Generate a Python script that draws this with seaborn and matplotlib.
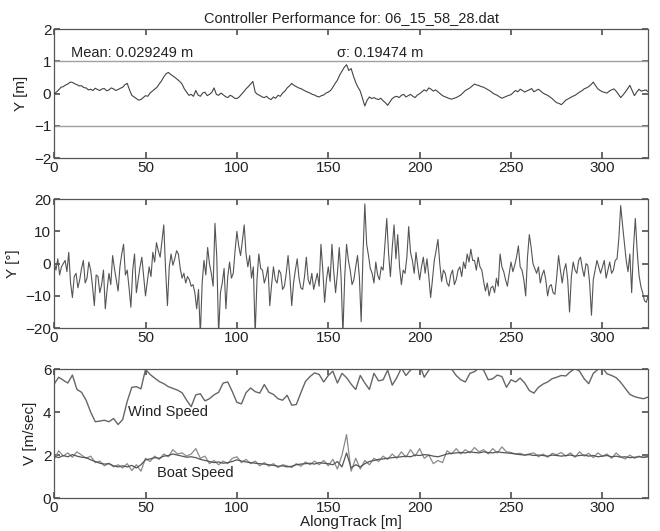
import numpy as np
import pandas as pd
import matplotlib
matplotlib.use("Agg")
import matplotlib.pyplot as plt
import seaborn as sns

# ---------------- data ----------------
track_end = 325.0

cross_track_m = [
    0.00, 0.05, 0.12, 0.20, 0.22, 0.27, 0.30, 0.36, 0.35, 0.31, 0.28, 0.24, 0.25, 0.19, 0.18, 0.12,
    0.14, 0.10, 0.17, 0.13, 0.10, 0.15, 0.16, 0.09, 0.12, 0.18, 0.15, 0.10, 0.13, 0.17, 0.20, 0.28,
    0.32, 0.12, -0.05, -0.10, -0.15, -0.20, -0.18, -0.12, -0.06, -0.08, 0.02, 0.08, 0.14, 0.20, 0.30, 0.40,
    0.52, 0.62, 0.66, 0.60, 0.55, 0.50, 0.44, 0.38, 0.30, 0.15, 0.05, -0.05, -0.02, -0.08, 0.10, -0.04,
    -0.08, 0.02, 0.05, -0.06, -0.02, 0.04, 0.18, -0.02, -0.05, 0.02, -0.03, -0.09, -0.12, -0.05, -0.08, -0.14,
    -0.15, -0.10, -0.02, 0.06, 0.15, 0.22, 0.30, 0.38, 0.05, -0.02, -0.05, -0.10, -0.12, -0.08, -0.15, -0.18,
    -0.10, -0.14, -0.05, -0.08, 0.02, 0.08, 0.18, 0.24, 0.32, 0.26, 0.22, 0.18, 0.16, 0.12, 0.08, 0.05,
    0.02, -0.02, -0.04, -0.08, -0.10, -0.06, -0.04, 0.02, 0.05, 0.10, 0.20, 0.32, 0.42, 0.58, 0.70, 0.82,
    0.90, 0.72, 0.78, 0.55, 0.35, 0.20, 0.08, -0.15, -0.38, -0.20, -0.10, -0.15, -0.12, -0.16, -0.18, -0.14,
    -0.22, -0.28, -0.36, -0.25, -0.15, -0.10, -0.08, -0.12, -0.05, -0.02, -0.10, -0.06, -0.02, -0.08, -0.12, -0.04,
    0.00, 0.06, 0.12, 0.08, 0.18, 0.14, 0.08, 0.12, 0.06, 0.00, -0.06, -0.09, -0.12, -0.15, -0.17, -0.14,
    -0.12, -0.08, -0.04, 0.03, 0.10, 0.14, 0.18, 0.24, 0.30, 0.27, 0.25, 0.22, 0.20, 0.16, 0.12, 0.08,
    0.02, -0.02, -0.05, -0.10, -0.14, -0.11, -0.08, -0.05, -0.03, 0.04, 0.10, 0.06, 0.14, 0.10, 0.05, 0.09,
    0.12, 0.16, 0.06, 0.10, 0.14, 0.08, 0.02, -0.02, -0.05, -0.10, -0.15, -0.22, -0.28, -0.30, -0.34, -0.27,
    -0.20, -0.16, -0.12, -0.08, -0.05, 0.00, 0.05, 0.09, 0.15, 0.18, 0.22, 0.28, 0.36, 0.25, 0.15, 0.10,
    0.06, 0.04, 0.02, 0.08, 0.12, 0.15, 0.08, -0.02, -0.12, -0.04, 0.05, 0.15, 0.26, 0.10, -0.06, 0.05,
    0.14, 0.08, 0.10, 0.12, 0.06,
]

heading_deg = [
    0.5, -2.0, 1.5, -3.5, -1.0, 0.0, 1.0, -2.5, 3.5, -6.0, -10.5, -4.0, -3.0, -7.5, -5.0, -1.5,
    1.0, -6.0, -4.5, 0.5, -2.0, -7.0, -13.0, -3.5, -4.0, -9.0, -6.5, -2.0, -14.0, -8.0, -3.0, -6.5,
    2.5, -1.5, -5.0, -8.5, -1.0, 3.0, 6.0, -3.5, -2.0, -7.5, -13.5, -2.0, 3.0, -9.0, -5.0, -1.0,
    2.0, -4.0, -10.0, -5.5, -1.0, -4.0, 3.5, 0.5, 6.5, 4.0, 2.0, 7.0, 12.0, -2.0, -13.0, -1.0,
    3.0, -0.5, 1.5, 4.0, 3.0, -1.5, -4.5, -3.0, -6.0, -4.0, -5.0, -7.0, -6.5, -9.0, -14.0, -8.0,
    -22.0, -6.0, 1.0, -3.5, 5.0, 0.0, -3.0, -7.0, 12.5, 2.0, -22.0, -9.0, -6.0, -1.5, -14.0, -4.0,
    0.5, -4.5, -3.0, 4.0, 10.0, 5.5, 2.5, 7.0, 12.0, 3.0, -1.0, 2.5, -4.5, -1.0, -22.0, -5.0,
    3.0, -1.5, -2.0, -6.0, -4.0, -1.0, -13.0, -6.5, -1.0, -5.0, -6.0, -2.0, -3.0, -8.0, -7.0, -3.0,
    2.5, -4.0, -13.0, -6.0, -2.0, 1.5, -4.5, -7.5, -8.0, -4.0, 2.0, -5.0, -6.5, -3.0, -8.0, -5.5,
    -3.0, -7.0, 6.0, -2.0, -12.0, -5.0, -1.0, -5.5, 6.0, -2.5, -9.0, -3.0, 5.0, -4.0, -22.0, -4.0,
    6.0, 1.0, -2.0, -6.5, -5.0, -1.0, 2.5, -4.0, -18.0, 3.0, 18.5, 6.0, 2.5, -1.5, -3.0, -6.0,
    0.5, -3.5, -5.0, -1.0, -2.0, 6.0, 14.0, 3.0, -4.0, 5.0, 12.0, 1.5, 9.0, -1.0, -6.5, -2.0,
    -3.0, 2.0, 11.5, 3.5, 1.0, -3.0, 3.5, -1.0, -5.0, -1.0, 2.0, -3.0, 1.5, -4.0, -10.5, -5.0,
    1.0, 4.0, 7.5, 0.0, -5.5, -2.0, -3.0, -6.0, -7.0, -3.5, -2.0, -6.5, -5.0, -2.0, -1.0, -4.0,
    0.5, -1.5, 3.0, 0.5, 4.5, 1.0, 1.0, -2.0, 2.0, -1.0, -2.0, -5.5, -8.5, -6.0, -10.0, -7.5,
    -7.0, -9.0, -4.5, -7.0, 3.0, -1.0, -2.5, -5.0, -7.0, -3.0, 0.5, -2.5, -0.5, 2.0, 5.5, -1.0,
    -2.0, -5.0, -10.0, 2.0, 9.0, 5.0, 0.0, -1.5, -3.0, -1.0, -6.0, -3.5, -2.0, -5.0, -10.0, -7.0,
    -6.5, -9.0, -9.5, -4.0, 2.5, -2.0, -6.0, -2.0, 0.0, -5.0, -15.0, -4.0, 0.5, -2.0, -3.0, 1.0,
    2.0, -1.5, -4.0, 0.0, -0.5, -6.0, -16.0, -5.0, -2.0, 1.0, -1.0, -3.0, -1.0, 1.0, -4.5, -2.0,
    0.5, -3.0, -2.0, 1.0, 1.5, 8.0, 18.0, 12.0, 6.5, 1.0, -2.5, 3.0, -9.0, 5.0, 14.0, 4.0,
    -3.5, -7.0, -9.0, -11.5, -12.0, -10.0,
]

wind_speed = [
    5.30, 5.62, 5.48, 5.35, 5.72, 5.05, 4.92, 4.55, 4.00, 3.55, 3.58, 3.62, 3.55, 3.70, 3.42, 3.65,
    4.50, 5.15, 5.18, 5.08, 5.98, 5.75, 5.58, 5.42, 5.32, 5.18, 5.10, 5.02, 4.90, 4.55, 4.25, 4.80,
    4.85, 4.52, 4.62, 4.80, 4.92, 5.35, 5.40, 4.95, 4.45, 4.38, 4.90, 5.12, 4.95, 4.88, 5.28, 4.92,
    4.82, 4.62, 4.55, 4.78, 4.32, 4.35, 4.90, 5.42, 5.65, 5.82, 5.75, 5.40, 5.70, 5.90, 5.35, 5.80,
    5.60, 5.30, 5.05, 5.70, 5.35, 5.05, 5.80, 5.45, 5.50, 5.95, 5.25, 5.60, 6.05, 5.70, 5.95, 6.10,
    6.20, 5.62, 5.95, 6.30, 6.40, 6.35, 6.20, 6.00, 5.70, 5.50, 5.40, 5.80, 5.88, 6.05, 5.95, 5.50,
    5.55, 5.72, 5.65, 5.15, 5.50, 5.40, 5.58, 5.35, 5.00, 4.88, 5.15, 5.30, 5.40, 5.55, 5.62, 5.70,
    5.68, 5.88, 6.02, 5.90, 5.55, 5.32, 5.80, 5.98, 6.05, 5.78, 5.70, 5.60, 5.38, 5.10, 4.82, 4.72,
    4.66, 4.62, 4.70,
]

boat_speed_a = [
    1.95, 1.88, 1.98, 1.92, 2.02, 1.95, 1.90, 1.88, 1.78, 1.70, 1.62, 1.58, 1.60, 1.50, 1.45, 1.50,
    1.45, 1.52, 1.40, 1.55, 1.78, 1.82, 1.88, 1.85, 1.95, 1.98, 2.05, 2.00, 1.95, 1.90, 1.92, 1.88,
    1.80, 1.75, 1.70, 1.65, 1.68, 1.62, 1.65, 1.70, 1.78, 1.72, 1.68, 1.65, 1.62, 1.60, 1.58, 1.55,
    1.52, 1.48, 1.50, 1.45, 1.48, 1.55, 1.58, 1.60, 1.62, 1.58, 1.65, 1.62, 1.60, 1.55, 1.70, 1.45,
    2.10, 1.40, 1.55, 1.45, 1.60, 1.70, 1.75, 1.80, 1.82, 1.85, 1.88, 1.90, 1.92, 1.95, 1.92, 2.00,
    1.98, 2.02, 2.00, 1.95, 1.92, 1.98, 2.05, 2.08, 2.10, 2.12, 2.10, 2.15, 2.12, 2.10, 2.15, 2.12,
    2.10, 2.15, 2.12, 2.10, 2.08, 2.05, 2.02, 2.00, 2.02, 1.98, 2.00, 1.98, 1.95, 2.00, 1.98, 1.95,
    1.98, 2.00, 1.95, 1.98, 2.00, 1.95, 1.98, 1.92, 1.95, 1.98, 1.92, 1.95, 1.90, 1.92, 1.88, 1.90,
    1.92, 1.90, 1.92,
]

boat_speed_b = [
    1.80, 2.20, 1.95, 2.10, 1.90, 2.15, 2.00, 1.85, 1.95, 1.65, 1.72, 1.50, 1.62, 1.45, 1.55, 1.40,
    1.60, 1.28, 1.55, 1.25, 1.85, 1.70, 1.95, 1.80, 2.05, 1.92, 2.25, 2.05, 2.10, 1.95, 2.05, 2.30,
    1.85, 1.95, 1.60, 1.75, 1.55, 1.72, 1.60, 1.85, 1.92, 1.65, 1.80, 1.60, 1.72, 1.50, 1.65, 1.48,
    1.60, 1.42, 1.55, 1.50, 1.42, 1.60, 1.48, 1.68, 1.55, 1.72, 1.55, 1.75, 1.50, 1.80, 1.35, 2.00,
    2.95, 1.25, 1.85, 1.35, 1.75, 1.55, 1.85, 1.70, 1.95, 1.80, 2.05, 1.85, 2.15, 1.90, 2.25, 1.95,
    2.30, 1.85, 2.00, 1.60, 1.75, 1.65, 2.20, 2.05, 2.30, 2.05, 2.25, 2.10, 2.35, 2.15, 2.25, 2.05,
    2.30, 2.10, 2.38, 2.15, 2.12, 2.05, 2.08, 2.00, 2.06, 2.10, 1.92, 2.05, 1.90, 2.08, 2.02, 2.12,
    1.95, 2.10, 1.90, 2.15, 1.95, 2.08, 1.88, 2.10, 1.95, 2.05, 1.85, 2.10, 1.92, 1.82, 2.00, 1.85,
    1.95, 1.88, 1.95,
]

x_ticks = [0, 50, 100, 150, 200, 250, 300]
mean_text = "Mean: 0.029249 m"
sigma_text = "σ: 0.19474 m"
title_text = "Controller Performance for: 06_15_58_28.dat"

# ---------------- styling ----------------
sns.set_theme(style="ticks")
plt.rcParams["font.family"] = ["Liberation Sans", "DejaVu Sans"]
plt.rcParams.update({
    "axes.edgecolor": "#555555",
    "axes.linewidth": 0.9,
    "xtick.direction": "in",
    "ytick.direction": "in",
    "xtick.top": True,
    "ytick.right": True,
    "xtick.color": "#555555",
    "ytick.color": "#555555",
    "xtick.labelcolor": "#222222",
    "ytick.labelcolor": "#222222",
    "xtick.major.size": 4,
    "ytick.major.size": 4,
    "xtick.labelsize": 11,
    "ytick.labelsize": 11,
    "axes.labelsize": 11,
    "axes.labelcolor": "#222222",
})


def track(values):
    return np.linspace(0, track_end, len(values))


fig = plt.figure(figsize=(6.6, 5.31), dpi=100)
ax1 = fig.add_axes([0.082, 0.702, 0.900, 0.243])
ax2 = fig.add_axes([0.082, 0.382, 0.900, 0.243])
ax3 = fig.add_axes([0.082, 0.062, 0.900, 0.243])

# top: cross-track error
df1 = pd.DataFrame({"x": track(cross_track_m), "y": cross_track_m})
ax1.axhline(1, color="#a0a0a0", lw=1.0, zorder=1)
ax1.axhline(-1, color="#a0a0a0", lw=1.0, zorder=1)
sns.lineplot(data=df1, x="x", y="y", ax=ax1, color="#444444", lw=0.8, zorder=3)
ax1.set_ylim(-2, 2)
ax1.set_yticks([-2, -1, 0, 1, 2])
ax1.set_ylabel("Y [m]")
ax1.text(9, 1.27, mean_text, fontsize=10.5, color="#222222", va="center")
ax1.text(155, 1.27, sigma_text, fontsize=10.5, color="#222222", va="center")
ax1.set_title(title_text, fontsize=10.5, color="#222222", pad=5)

# middle: heading
df2 = pd.DataFrame({"x": track(heading_deg), "y": heading_deg})
sns.lineplot(data=df2, x="x", y="y", ax=ax2, color="#555555", lw=0.8)
ax2.set_ylim(-20, 20)
ax2.set_yticks([-20, -10, 0, 10, 20])
ax2.set_ylabel("Y [°]")

# bottom: speeds
df3 = pd.DataFrame({"x": track(wind_speed), "wind": wind_speed,
                    "boat_a": boat_speed_a, "boat_b": boat_speed_b})
sns.lineplot(data=df3, x="x", y="wind", ax=ax3, color="#666666", lw=1.0)
sns.lineplot(data=df3, x="x", y="boat_b", ax=ax3, color="#8a8a8a", lw=0.9)
sns.lineplot(data=df3, x="x", y="boat_a", ax=ax3, color="#555555", lw=0.9)
ax3.set_ylim(0, 6)
ax3.set_yticks([0, 2, 4, 6])
ax3.set_ylabel("V [m/sec]")
ax3.set_xlabel("AlongTrack [m]", labelpad=0)
ax3.text(40.5, 4.0, "Wind Speed", fontsize=10.5, color="#222222", va="center")
ax3.text(56.5, 1.15, "Boat Speed", fontsize=10.5, color="#222222", va="center")

for ax in (ax1, ax2, ax3):
    ax.set_xlim(0, track_end)
    ax.set_xticks(x_ticks)
    if ax is not ax3:
        ax.set_xlabel("")
    ax.tick_params(axis="x", pad=2)
    ax.tick_params(axis="y", pad=2)
    for s in ax.spines.values():
        s.set_visible(True)

fig.savefig("out.png", dpi=100)
